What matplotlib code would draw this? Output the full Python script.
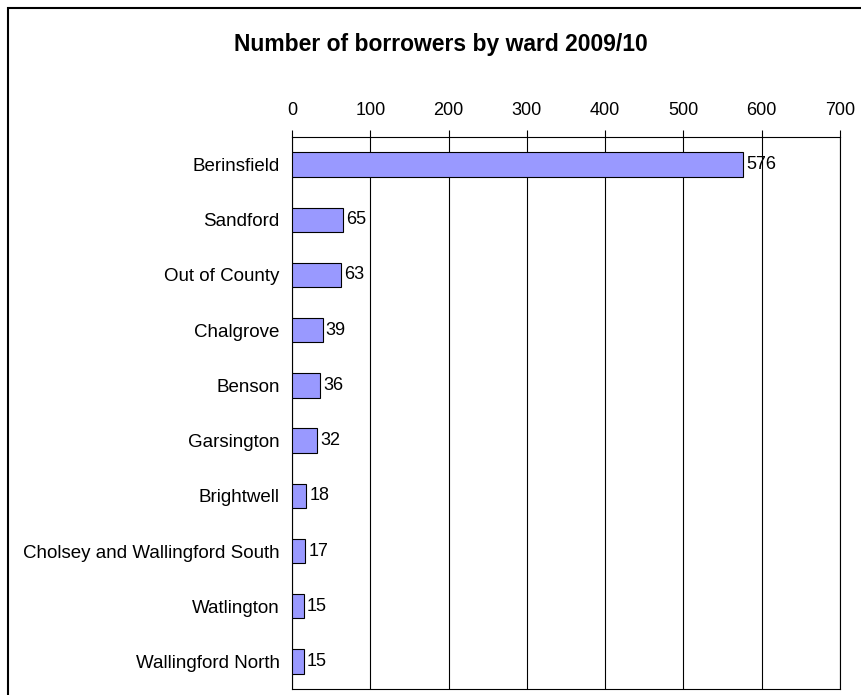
import matplotlib.pyplot as plt
from matplotlib.patches import Rectangle

plt.rcParams['font.family'] = ['Liberation Sans', 'DejaVu Sans']

wards = ['Berinsfield', 'Sandford', 'Out of County', 'Chalgrove', 'Benson',
         'Garsington', 'Brightwell', 'Cholsey and Wallingford South',
         'Watlington', 'Wallingford North']
borrowers = [576, 65, 63, 39, 36, 32, 18, 17, 15, 15]
xticks = [0, 100, 200, 300, 400, 500, 600, 700]

fig = plt.figure(figsize=(8.61, 6.95), dpi=100)
ax = fig.add_axes([292/861, 1 - 689/695, (840 - 292)/861, (689 - 137)/695])

# outer chart frame (runs off the right and bottom of the image)
fig.patches.append(Rectangle((8/861, -0.2), 1.2, 1.2 - 8/695,
                             transform=fig.transFigure, fill=False,
                             edgecolor='black', linewidth=1.5))

pos = list(range(len(wards)))
ax.barh(pos, borrowers, height=0.44, color='#9999FF', edgecolor='black',
        linewidth=0.8, zorder=3)
for p, v in zip(pos, borrowers):
    ax.text(v + 4, p, str(v), va='center', ha='left', fontsize=13, zorder=4)

ax.set_xlim(0, 700)
ax.set_ylim(len(wards) - 0.5, -0.5)
ax.set_xticks(xticks)
ax.xaxis.tick_top()
ax.tick_params(axis='x', direction='out', length=5, width=0.8,
               labelsize=13, pad=8)
ax.set_yticks(pos)
ax.set_yticklabels(wards)
ax.tick_params(axis='y', length=0, labelsize=13.5, pad=9)
ax.grid(axis='x', color='black', linewidth=0.8, zorder=1)
for s in ax.spines.values():
    s.set_linewidth(0.8)

fig.text(441/861, 1 - 45/695, 'Number of borrowers by ward 2009/10',
         ha='center', va='center', fontsize=16.5, fontweight='bold')

fig.savefig('out.png', dpi=100)
